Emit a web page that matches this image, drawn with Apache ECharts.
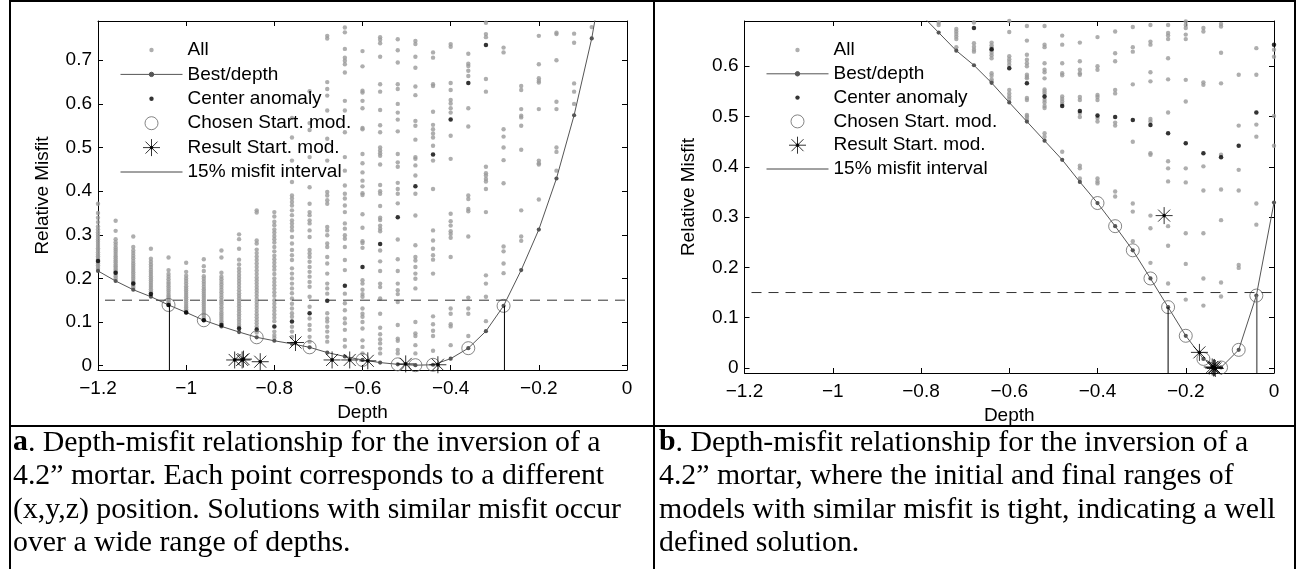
<!DOCTYPE html>
<html><head><meta charset="utf-8">
<script src="https://cdn.jsdelivr.net/npm/echarts@6.0.0/dist/echarts.min.js"></script>
<style>html,body{margin:0;padding:0;background:#fff}#c{width:1301px;height:569px}</style>
</head><body><div id="c"></div><script>
// ---------------- Panel a ----------------
const depthColsA = [-1.2,-1.16,-1.12,-1.08,-1.04,-1,-0.96,-0.92,-0.88,-0.84,-0.8,-0.76,-0.72,-0.68,-0.64,-0.6,-0.56,-0.52,-0.48,-0.44,-0.4,-0.36,-0.32,-0.28,-0.24,-0.2,-0.16,-0.12,-0.08];
const allMisfitA = [
 [0.371,0.350,0.339,0.329,0.319,0.312,0.306,0.300,0.295,0.289,0.284,0.279,0.274,0.269,0.265,0.260,0.255,0.251,0.247,0.243,0.238,0.234,0.230,0.226,0.222],
 [0.332,0.309,0.290,0.283,0.277,0.271,0.266,0.261,0.256,0.251,0.246,0.241,0.237,0.232,0.228,0.224,0.220,0.216,0.210,0.205,0.200],
 [0.296,0.272,0.264,0.258,0.252,0.246,0.240,0.234,0.229,0.224,0.219,0.214,0.209,0.204,0.199,0.194,0.190,0.185,0.181,0.178],
 [0.268,0.245,0.238,0.232,0.226,0.220,0.215,0.210,0.205,0.200,0.195,0.190,0.185,0.180,0.175,0.170,0.166],
 [0.248,0.219,0.210,0.204,0.198,0.192,0.187,0.182,0.177,0.172,0.167,0.162,0.158,0.154,0.150,0.146,0.143],
 [0.236,0.215,0.206,0.200,0.194,0.188,0.182,0.177,0.172,0.167,0.162,0.157,0.152,0.147,0.142,0.137,0.133,0.129,0.125],
 [0.244,0.228,0.217,0.205,0.199,0.193,0.187,0.181,0.175,0.170,0.165,0.160,0.155,0.150,0.145,0.140,0.135,0.130,0.125,0.120,0.115,0.110],
 [0.264,0.248,0.213,0.204,0.198,0.192,0.186,0.180,0.174,0.168,0.162,0.156,0.150,0.145,0.140,0.134,0.128,0.122,0.117,0.112,0.107,0.102,0.097],
 [0.301,0.290,0.268,0.243,0.232,0.222,0.215,0.208,0.201,0.194,0.187,0.180,0.173,0.166,0.160,0.154,0.148,0.142,0.136,0.130,0.124,0.118,0.112,0.106,0.100,0.094,0.089],
 [0.356,0.351,0.287,0.280,0.266,0.258,0.250,0.242,0.234,0.226,0.218,0.210,0.202,0.195,0.188,0.181,0.174,0.167,0.160,0.153,0.146,0.139,0.132,0.125,0.118,0.111,0.104,0.097,0.090,0.076],
 [0.352,0.342,0.330,0.322,0.312,0.305,0.297,0.290,0.282,0.272,0.262,0.252,0.244,0.236,0.228,0.220,0.210,0.200,0.192,0.184,0.176,0.168,0.160,0.150,0.142,0.134,0.126,0.118,0.110,0.102,0.078,0.070,0.064],
 [0.568,0.523,0.470,0.421,0.390,0.383,0.375,0.367,0.356,0.345,0.333,0.326,0.318,0.310,0.295,0.280,0.265,0.253,0.242,0.223,0.211,0.200,0.188,0.177,0.166,0.154,0.142,0.131,0.120,0.112,0.089,0.078,0.066],
 [0.629,0.556,0.540,0.478,0.409,0.371,0.352,0.345,0.333,0.326,0.310,0.295,0.265,0.257,0.249,0.238,0.226,0.215,0.204,0.192,0.181,0.158,0.135,0.108,0.093,0.082,0.066,0.055],
 [0.756,0.750,0.650,0.634,0.619,0.585,0.520,0.470,0.398,0.390,0.379,0.371,0.318,0.310,0.299,0.280,0.272,0.249,0.234,0.211,0.188,0.177,0.165,0.120,0.108,0.101,0.089,0.078,0.066,0.055],
 [0.775,0.764,0.726,0.706,0.699,0.691,0.672,0.607,0.585,0.535,0.478,0.447,0.413,0.394,0.383,0.367,0.352,0.326,0.314,0.299,0.291,0.272,0.242,0.219,0.165,0.143,0.127,0.108,0.097,0.082,0.059,0.044],
 [0.721,0.686,0.630,0.626,0.607,0.590,0.545,0.542,0.485,0.464,0.443,0.424,0.411,0.395,0.391,0.347,0.316,0.285,0.281,0.270,0.196,0.188,0.174,0.164,0.158,0.131,0.119,0.112,0.100,0.085,0.058,0.043,0.028],
 [0.753,0.747,0.739,0.708,0.645,0.628,0.586,0.551,0.535,0.500,0.493,0.487,0.481,0.461,0.414,0.400,0.394,0.366,0.339,0.334,0.321,0.314,0.308,0.264,0.239,0.217,0.188,0.180,0.154,0.119,0.087,0.072,0.060,0.051,0.039,0.028],
 [0.748,0.723,0.695,0.645,0.634,0.600,0.580,0.564,0.537,0.485,0.466,0.456,0.419,0.405,0.394,0.372,0.289,0.244,0.217,0.188,0.173,0.164,0.146,0.093,0.062,0.057,0.036,0.028],
 [0.744,0.737,0.708,0.683,0.640,0.620,0.561,0.550,0.518,0.478,0.474,0.459,0.436,0.394,0.344,0.276,0.249,0.241,0.226,0.211,0.199,0.177,0.100,0.074,0.068,0.047,0.028],
 [0.718,0.706,0.645,0.641,0.582,0.552,0.542,0.532,0.523,0.504,0.470,0.405,0.310,0.287,0.268,0.253,0.243,0.211,0.113,0.095,0.080,0.068,0.034],
 [0.737,0.731,0.648,0.632,0.609,0.601,0.590,0.580,0.527,0.474,0.348,0.331,0.321,0.308,0.302,0.293,0.249,0.131,0.119,0.095,0.090,0.047],
 [0.715,0.692,0.687,0.676,0.664,0.590,0.548,0.390,0.382,0.359,0.354,0.296,0.156,0.131,0.119,0.068],
 [0.786,0.760,0.753,0.657,0.628,0.456,0.441,0.436,0.428,0.422,0.405,0.352,0.207,0.188,0.158,0.102],
 [0.729,0.718,0.542,0.525,0.500,0.471,0.418,0.273,0.262,0.234,0.212],
 [0.641,0.632,0.588,0.573,0.569,0.550,0.495,0.356,0.296,0.286],
 [0.756,0.691,0.659,0.653,0.649,0.588,0.470,0.464,0.461,0.381],
 [0.763,0.760,0.700,0.605,0.588,0.500,0.490,0.447],
 [0.761,0.740,0.647,0.628,0.600],
 [0.776]
];
const bestDepthA = [-1.2,-1.16,-1.12,-1.08,-1.04,-1,-0.96,-0.92,-0.88,-0.84,-0.8,-0.76,-0.72,-0.68,-0.64,-0.6,-0.56,-0.52,-0.48,-0.44,-0.4,-0.36,-0.32,-0.28,-0.24,-0.2,-0.16,-0.12,-0.08,-0.04];
const bestMisfitA = [0.217,0.194,0.174,0.158,0.139,0.122,0.104,0.090,0.077,0.065,0.057,0.050,0.042,0.030,0.021,0.013,0.007,0.003,0.001,0.002,0.016,0.040,0.079,0.137,0.219,0.312,0.429,0.574,0.750,0.980];
const centerDepthA = [-1.2,-1.16,-1.12,-1.08,-1.04,-1,-0.96,-0.92,-0.88,-0.84,-0.8,-0.76,-0.72,-0.68,-0.64,-0.6,-0.56,-0.52,-0.48,-0.44,-0.4,-0.36,-0.32];
const centerMisfitA = [0.240,0.213,0.188,0.164,0.139,0.122,0.104,0.093,0.085,0.083,0.090,0.101,0.120,0.149,0.183,0.226,0.279,0.340,0.411,0.484,0.564,0.648,0.735];
const chosenDepthA = [-1.04,-0.96,-0.84,-0.72,-0.6,-0.52,-0.48,-0.44,-0.36,-0.28];
const chosenMisfitA = [0.139,0.104,0.065,0.042,0.013,0.003,0.001,0.002,0.040,0.137];
const resultDepthA = [-0.890,-0.873,-0.870,-0.832,-0.752,-0.669,-0.629,-0.588,-0.502,-0.429];
const resultMisfitA = [0.013,0.013,0.015,0.009,0.053,0.013,0.013,0.011,0.004,0.002];
const intervalDepthA = [-1.038,-0.278];
const intervalMisfitA = [0.139,0.137];

// ---------------- Panel b ----------------
const depthColsB = [-0.76,-0.72,-0.68,-0.64,-0.6,-0.56,-0.52,-0.48,-0.44,-0.4,-0.36,-0.32,-0.28,-0.24,-0.2,-0.16,-0.12,-0.08,-0.04,0];
const allMisfitB = [
 [0.687,0.682],
 [0.674,0.669,0.664,0.659,0.654,0.638],
 [0.687,0.646,0.639,0.633,0.629],
 [0.691,0.647,0.642,0.637,0.632,0.627,0.622,0.616,0.586,0.581,0.574,0.570],
 [0.690,0.668,0.620,0.614,0.609,0.603,0.553,0.546,0.540,0.535],
 [0.680,0.651,0.623,0.613,0.606,0.600,0.583,0.579,0.576,0.537,0.533,0.503,0.500,0.495],
 [0.680,0.643,0.638,0.606,0.593,0.588,0.576,0.554,0.550,0.546,0.533,0.528,0.521,0.517,0.467,0.460],
 [0.661,0.643,0.606,0.586,0.582,0.540,0.535,0.530,0.525,0.430],
 [0.647,0.610,0.593,0.586,0.583,0.539,0.533,0.507,0.499,0.402,0.397,0.377],
 [0.658,0.600,0.593,0.543,0.539,0.533,0.497,0.490,0.377,0.371,0.367],
 [0.669,0.626,0.610,0.553,0.546,0.488,0.482,0.351,0.341],
 [0.678,0.638,0.629,0.564,0.450,0.327,0.311,0.252],
 [0.682,0.649,0.643,0.588,0.570,0.495,0.490,0.427,0.424,0.303,0.278,0.209],
 [0.682,0.666,0.661,0.654,0.616,0.574,0.508,0.411,0.397,0.371,0.282,0.243,0.168],
 [0.689,0.682,0.676,0.663,0.654,0.573,0.530,0.397,0.369,0.268,0.207,0.136],
 [0.676,0.669,0.568,0.563,0.401,0.353,0.268,0.178,0.124],
 [0.684,0.679,0.627,0.566,0.424,0.355,0.294,0.170,0.142],
 [0.583,0.482,0.394,0.353,0.205,0.199],
 [0.636,0.583,0.484,0.460,0.327,0.285],
 [0.633,0.619,0.501,0.442]
];
const bestDepthB = [-0.8,-0.76,-0.72,-0.68,-0.64,-0.6,-0.56,-0.52,-0.48,-0.44,-0.4,-0.36,-0.32,-0.28,-0.24,-0.2,-0.16,-0.12,-0.08,-0.04,0];
const bestMisfitB = [0.703,0.667,0.631,0.602,0.567,0.528,0.490,0.452,0.414,0.370,0.328,0.282,0.234,0.178,0.121,0.064,0.018,0.001,0.036,0.144,0.329];
const centerDepthB = [-0.68,-0.64,-0.6,-0.56,-0.52,-0.48,-0.44,-0.4,-0.36,-0.32,-0.28,-0.24,-0.2,-0.16,-0.12,-0.08,-0.04,0];
const centerMisfitB = [0.676,0.634,0.596,0.566,0.540,0.521,0.511,0.502,0.499,0.493,0.483,0.467,0.447,0.427,0.419,0.442,0.508,0.643];
const chosenDepthB = [-0.4,-0.36,-0.32,-0.28,-0.24,-0.2,-0.16,-0.12,-0.08,-0.04];
const chosenMisfitB = [0.328,0.282,0.234,0.178,0.121,0.064,0.018,0.001,0.036,0.144];
const resultDepthB = [-0.249,-0.169,-0.140,-0.137,-0.135,-0.133];
const resultMisfitB = [0.303,0.031,0.002,0.000,0.001,-0.001];
const intervalDepthB = [-0.24,-0.039];
const intervalMisfitB = [0.121,0.144];

const thresholdMisfit = 0.15;

// ---------------- Ticks & labels ----------------
const xTickValues = [-1.2,-1,-0.8,-0.6,-0.4,-0.2,0];
const xTickLabels = ['\u22121.2','\u22121','\u22120.8','\u22120.6','\u22120.4','\u22120.2','0'];
const yTickValuesA = [0,0.1,0.2,0.3,0.4,0.5,0.6,0.7];
const yTickLabelsA = ['0','0.1','0.2','0.3','0.4','0.5','0.6','0.7'];
const yTickValuesB = [0,0.1,0.2,0.3,0.4,0.5,0.6];
const yTickLabelsB = ['0','0.1','0.2','0.3','0.4','0.5','0.6'];

const legendNames = ['All','Best/depth','Center anomaly','Chosen Start. mod.','Result Start. mod.','15% misfit interval'];
const captionA = ['{b|a}. Depth-misfit relationship for the inversion of a','4.2\u201D mortar. Each point corresponds to a different','(x,y,z) position. Solutions with similar misfit occur','over a wide range of depths.'];
const captionB = ['{b|b}. Depth-misfit relationship for the inversion of a','4.2\u201D mortar, where the initial and final ranges of','models with similar misfit is tight, indicating a well','defined solution.'];

// ---------------- Build ----------------
const SANS = 'Liberation Sans, Arial, Helvetica, sans-serif';
const SERIF = 'Liberation Serif, Times New Roman, serif';
const FS = 19;
const CAP_FS = 29.8;
const GRAY = '#9a9a9a', DARK = '#555555';
const STAR = 'path://M8 -0.5L8 16.5M-0.5 8L16.5 8M2 2L14 14M2 14L14 2M6.6 8A1.4 1.4 0 1 1 9.4 8A1.4 1.4 0 1 1 6.6 8Z';

function zip(d, v) { return d.map((x, i) => [x, v[i]]); }
function columns(d, lists) { const out = []; d.forEach((x, i) => lists[i].forEach(v => out.push([x, v]))); return out; }
function fmtFrom(vals, labels) { return v => { for (let i = 0; i < vals.length; i++) if (Math.abs(vals[i] - v) < 1e-9) return labels[i]; return ''; }; }

const grids = [
  {left: 98, top: 21, width: 529, height: 349},
  {left: 744.5, top: 21, width: 529.5, height: 352}
];
const yMax = [0.79, 0.69];
const yVals = [yTickValuesA, yTickValuesB];
const yLabs = [yTickLabelsA, yTickLabelsB];

const xAxes = [], yAxes = [];
[0, 1].forEach(g => {
  const line = {onZero: false, lineStyle: {color: '#000', width: 1}};
  const tick = {inside: true, length: 5, lineStyle: {color: '#000', width: 1}, customValues: xTickValues};
  xAxes.push({gridIndex: g, type: 'value', position: 'bottom', min: -1.2, max: 0, axisLine: line, splitLine: {show: false},
    axisTick: tick,
    axisLabel: {customValues: xTickValues, formatter: fmtFrom(xTickValues, xTickLabels), color: '#000', fontSize: FS, fontFamily: SANS, margin: 9},
    name: 'Depth', nameLocation: 'middle', nameGap: g === 0 ? 30 : 28, nameTextStyle: {color: '#000', fontSize: FS, fontFamily: SANS}});
  xAxes.push({gridIndex: g, type: 'value', position: 'top', min: -1.2, max: 0, axisLine: line, splitLine: {show: false},
    axisTick: tick, axisLabel: {show: false}});
  const ytick = {inside: true, length: 5, lineStyle: {color: '#000', width: 1}, customValues: yVals[g]};
  yAxes.push({gridIndex: g, type: 'value', position: 'left', min: -0.01, max: yMax[g], axisLine: line, splitLine: {show: false},
    axisTick: ytick,
    axisLabel: {customValues: yVals[g], formatter: fmtFrom(yVals[g], yLabs[g]), color: '#000', fontSize: FS, fontFamily: SANS, margin: 6},
    name: 'Relative Misfit', nameLocation: 'middle', nameGap: 46, nameRotate: 90, nameTextStyle: {color: '#000', fontSize: FS, fontFamily: SANS}});
  yAxes.push({gridIndex: g, type: 'value', position: 'right', min: -0.01, max: yMax[g], axisLine: line, splitLine: {show: false},
    axisTick: ytick, axisLabel: {show: false}});
});

function panelSeries(g, P) {
  const xi = g * 2, yi = g * 2;
  const s = [];
  s.push({name: 'All', type: 'scatter', xAxisIndex: xi, yAxisIndex: yi, symbol: 'circle', symbolSize: 4.4,
    itemStyle: {color: GRAY}, data: columns(P.cols, P.all), silent: true, z: 2});
  s.push({name: 'Best/depth', type: 'line', xAxisIndex: xi, yAxisIndex: yi, symbol: 'circle', symbolSize: 4.2, showSymbol: true,
    itemStyle: {color: DARK}, lineStyle: {color: DARK, width: 1}, data: zip(P.bestD, P.bestM), silent: true, z: 3, animation: false});
  s.push({name: 'Center anomaly', type: 'scatter', xAxisIndex: xi, yAxisIndex: yi, symbol: 'circle', symbolSize: 4.5,
    itemStyle: {color: '#000'}, data: zip(P.cenD, P.cenM), silent: true, z: 4});
  s.push({name: 'Chosen Start. mod.', type: 'scatter', xAxisIndex: xi, yAxisIndex: yi, symbol: 'circle', symbolSize: 13,
    itemStyle: {color: 'rgba(0,0,0,0)', borderColor: '#666', borderWidth: 1}, data: zip(P.choD, P.choM), silent: true, z: 5});
  s.push({name: 'Result Start. mod.', type: 'scatter', xAxisIndex: xi, yAxisIndex: yi, symbol: STAR, symbolSize: 17,
    itemStyle: {color: '#000', borderColor: '#000', borderWidth: 1}, data: zip(P.resD, P.resM), silent: true, z: 6});
  s.push({name: 'threshold', type: 'line', xAxisIndex: xi, yAxisIndex: yi, symbol: 'none',
    lineStyle: {color: '#333', width: 1, type: [10, 7], dashOffset: 10}, data: [[-1.2, thresholdMisfit], [0, thresholdMisfit]], silent: true, z: 6});
  P.intD.forEach((d, i) => {
    s.push({name: '15% misfit interval', type: 'line', xAxisIndex: xi, yAxisIndex: yi, symbol: 'none',
      lineStyle: {color: (g === 1 && i === 1) ? '#777' : '#000', width: (g === 1 && i === 1) ? 1.6 : 1},
      data: [[d, -0.01], [d, P.intM[i]]], silent: true, z: 6});
  });
  return s;
}

const series = panelSeries(0, {cols: depthColsA, all: allMisfitA, bestD: bestDepthA, bestM: bestMisfitA, cenD: centerDepthA, cenM: centerMisfitA,
  choD: chosenDepthA, choM: chosenMisfitA, resD: resultDepthA, resM: resultMisfitA, intD: intervalDepthA, intM: intervalMisfitA})
  .concat(panelSeries(1, {cols: depthColsB, all: allMisfitB, bestD: bestDepthB, bestM: bestMisfitB, cenD: centerDepthB, cenM: centerMisfitB,
  choD: chosenDepthB, choM: chosenMisfitB, resD: resultDepthB, resM: resultMisfitB, intD: intervalDepthB, intM: intervalMisfitB}));

const PAD = 'M0 0M62 18';
const dot = 'M28.8 9A2.2 2.2 0 1 1 33.2 9A2.2 2.2 0 1 1 28.8 9Z';
const legendIcons = [
  {icon: 'path://' + PAD + dot, itemStyle: {color: GRAY, borderWidth: 0}},
  {icon: 'path://' + PAD + 'M0 9L62 9' + dot, itemStyle: {color: DARK, borderColor: DARK, borderWidth: 1}},
  {icon: 'path://' + PAD + dot, itemStyle: {color: '#000', borderWidth: 0}},
  {icon: 'path://' + PAD + 'M24.5 9A6.5 6.5 0 1 1 37.5 9A6.5 6.5 0 1 1 24.5 9Z', itemStyle: {color: 'rgba(0,0,0,0)', borderColor: '#666', borderWidth: 1}},
  {icon: 'path://' + PAD + 'M31 0.5L31 17.5M22.5 9L39.5 9M25 3L37 15M25 15L37 3M29.6 9A1.4 1.4 0 1 1 32.4 9A1.4 1.4 0 1 1 29.6 9Z', itemStyle: {color: '#000', borderColor: '#000', borderWidth: 1}},
  {icon: 'path://' + PAD + 'M0 9L62 9', itemStyle: {color: 'rgba(0,0,0,0)', borderColor: '#444', borderWidth: 1}}
];
function makeLegend(left, top, gap) {
  return {left: left, top: top, orient: 'vertical', padding: 0, itemGap: gap, itemWidth: 62, itemHeight: 18,
    selectedMode: false, symbolKeepAspect: true,
    textStyle: {color: '#000', fontSize: FS, fontFamily: SANS, lineHeight: 20},
    data: legendNames.map((n, i) => Object.assign({name: n}, legendIcons[i]))};
}

function captionText(x, lines) {
  return {type: 'text', x: x, y: 426, style: {text: lines.join('\n'), fill: '#000', font: CAP_FS + 'px ' + SERIF, lineHeight: 33.5,
    rich: {b: {fontWeight: 'bold', fontSize: CAP_FS, fontFamily: SERIF, fill: '#000', lineHeight: 33.5}}}};
}

const option = {
  animation: false,
  backgroundColor: '#fff',
  grid: grids,
  xAxis: xAxes,
  yAxis: yAxes,
  legend: [makeLegend(120, 40, 4.4), makeLegend(766, 40, 3.8)],
  series: series,
  graphic: [
    {type: 'line', shape: {x1: 10, y1: 1, x2: 1295, y2: 1}, style: {stroke: '#000', lineWidth: 2}, z: 100},
    {type: 'line', shape: {x1: 10, y1: 0, x2: 10, y2: 569}, style: {stroke: '#000', lineWidth: 2}, z: 100},
    {type: 'line', shape: {x1: 1295, y1: 0, x2: 1295, y2: 569}, style: {stroke: '#000', lineWidth: 2}, z: 100},
    {type: 'line', shape: {x1: 654, y1: 0, x2: 654, y2: 569}, style: {stroke: '#000', lineWidth: 2}, z: 100},
    {type: 'line', shape: {x1: 10, y1: 426, x2: 1295, y2: 426}, style: {stroke: '#000', lineWidth: 2}, z: 100},
    captionText(13, captionA),
    captionText(659, captionB)
  ]
};
const chart = echarts.init(document.getElementById('c'));
chart.setOption(option);
</script></body></html>
